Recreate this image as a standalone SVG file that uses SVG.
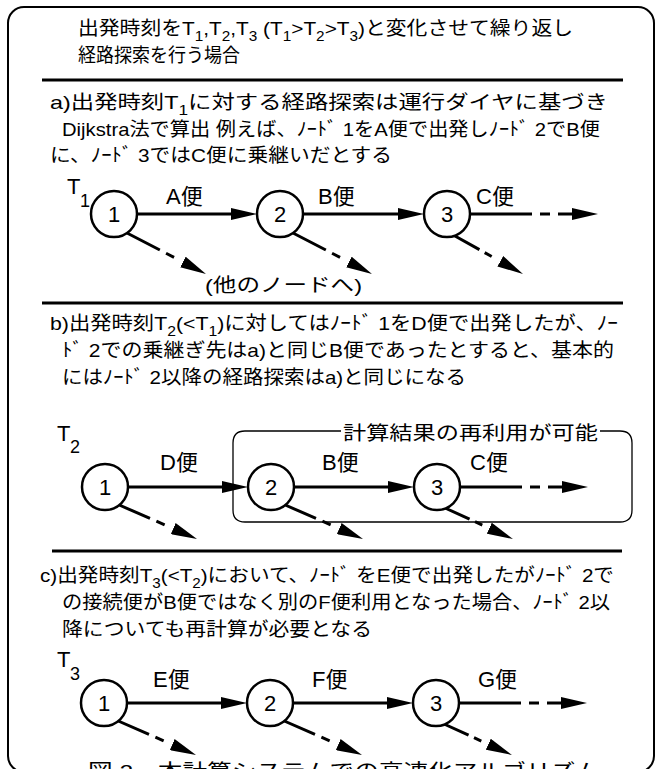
<svg xmlns="http://www.w3.org/2000/svg" width="656" height="769" viewBox="0 0 656 769">
<style>
.t{font-family:"Liberation Sans","Noto Sans CJK JP",sans-serif;font-size:19px;fill:#000}
.lbl{font-size:22px}
.num{font-size:22px;text-anchor:middle}
.sub{font-size:14px}
.tsub{font-size:18px}
.node circle{fill:#fff;stroke:#000;stroke-width:2.5}
.e{stroke:#000;stroke-width:3;fill:none}
.out{stroke-dasharray:62 8 10 8 14}
.dg{stroke-dasharray:37 7 9 10}
.dg3{stroke-dasharray:28 6 8 10}
.dgb{stroke-dasharray:36 7 9 10}
.dg3b{stroke-dasharray:27 6 8 8}
.rule{stroke:#000;stroke-width:3}
</style>
<defs>
<marker id="hd" markerUnits="userSpaceOnUse" viewBox="0 0 26 12" markerWidth="26" markerHeight="12" refX="0" refY="6" orient="auto"><path d="M0,0 L26,6 L0,12 z" fill="#000"/></marker>
</defs>
<rect x="8" y="7" width="646" height="765" rx="16" fill="#fff" stroke="#000" stroke-width="2"/>

<g id="texts">
<text class="t" x="78" y="35" textLength="495" lengthAdjust="spacingAndGlyphs">出発時刻をT<tspan class="sub" dy="6">1</tspan><tspan dy="-6">,T</tspan><tspan class="sub" dy="6">2</tspan><tspan dy="-6">,T</tspan><tspan class="sub" dy="6">3</tspan><tspan dy="-6"> (T</tspan><tspan class="sub" dy="6">1</tspan><tspan dy="-6">&gt;T</tspan><tspan class="sub" dy="6">2</tspan><tspan dy="-6">&gt;T</tspan><tspan class="sub" dy="6">3</tspan><tspan dy="-6">)と変化させて繰り返し</tspan></text>
<text class="t" x="78" y="62" textLength="162" lengthAdjust="spacingAndGlyphs">経路探索を行う場合</text>

<text class="t" x="50" y="109" textLength="558" lengthAdjust="spacingAndGlyphs">a)出発時刻T<tspan class="sub" dy="6">1</tspan><tspan dy="-6">に対する経路探索は運行ダイヤに基づき</tspan></text>
<text class="t" x="62" y="136" textLength="538" lengthAdjust="spacingAndGlyphs">Dijkstra法で算出  例えば、ﾉｰﾄﾞ 1をA便で出発しﾉｰﾄﾞ 2でB便</text>
<text class="t" x="50" y="162" textLength="342" lengthAdjust="spacingAndGlyphs">に、ﾉｰﾄﾞ 3ではC便に乗継いだとする</text>
<text class="t" x="205" y="292" textLength="157" lengthAdjust="spacingAndGlyphs">(他のノードへ)</text>

<text class="t" x="50" y="330" textLength="568" lengthAdjust="spacingAndGlyphs">b)出発時刻T<tspan class="sub" dy="6">2</tspan><tspan dy="-6">(&lt;T</tspan><tspan class="sub" dy="6">1</tspan><tspan dy="-6">)に対してはﾉｰﾄﾞ 1をD便で出発したが、ﾉｰ</tspan></text>
<text class="t" x="62" y="357" textLength="552" lengthAdjust="spacingAndGlyphs">ﾄﾞ 2での乗継ぎ先はa)と同じB便であったとすると、基本的</text>
<text class="t" x="62" y="384" textLength="404" lengthAdjust="spacingAndGlyphs">にはﾉｰﾄﾞ 2以降の経路探索はa)と同じになる</text>

<text class="t" x="40" y="582" textLength="574" lengthAdjust="spacingAndGlyphs">c)出発時刻T<tspan class="sub" dy="6">3</tspan><tspan dy="-6">(&lt;T</tspan><tspan class="sub" dy="6">2</tspan><tspan dy="-6">)において、ﾉｰﾄﾞ をE便で出発したがﾉｰﾄﾞ 2で</tspan></text>
<text class="t" x="62" y="609" textLength="548" lengthAdjust="spacingAndGlyphs">の接続便がB便ではなく別のF便利用となった場合、ﾉｰﾄﾞ 2以</text>
<text class="t" x="62" y="636" textLength="310" lengthAdjust="spacingAndGlyphs">降についても再計算が必要となる</text>

<text class="t" x="88" y="778" font-size="23" textLength="512" lengthAdjust="spacingAndGlyphs">図 2　本計算システムでの高速化アルゴリズム</text>
</g>

<g id="rules">
<line class="rule" x1="42" y1="80" x2="623" y2="80"/>
<line class="rule" x1="42" y1="303" x2="623" y2="303"/>
<line class="rule" x1="52" y1="551" x2="622" y2="551"/>
</g>

<g id="reuse">
<path d="M341,431 H245 Q233,431 233,443 V510 Q233,522 245,522 H620 Q632,522 632,510 V443 Q632,431 620,431 H600" fill="none" stroke="#000" stroke-width="1.3"/>
<text class="t" x="343" y="440" font-size="21" textLength="255" lengthAdjust="spacingAndGlyphs">計算結果の再利用が可能</text>
</g>

<g id="connectors">
<!-- section a -->
<path class="e" d="M137,214 H231" marker-end="url(#hd)"/>
<path class="e" d="M303,214 H398" marker-end="url(#hd)"/>
<path class="e out" d="M470,214 H572" marker-end="url(#hd)"/>
<path class="e dg" d="M127,233 L182.9,262" marker-end="url(#hd)"/>
<path class="e dg" d="M293,233 L348.9,262" marker-end="url(#hd)"/>
<path class="e dg3" d="M455,236 L500.3,261.3" marker-end="url(#hd)"/>
<text class="t lbl" x="166" y="204">A便</text>
<text class="t lbl" x="318" y="204">B便</text>
<text class="t lbl" x="476" y="204">C便</text>
<!-- section b -->
<path class="e" d="M128,487 H222" marker-end="url(#hd)"/>
<path class="e" d="M294,487 H388" marker-end="url(#hd)"/>
<path class="e out" d="M460,487 H562" marker-end="url(#hd)"/>
<path class="e dgb" d="M117,504 L173.2,528.6" marker-end="url(#hd)"/>
<path class="e dgb" d="M283,504 L339.2,528.6" marker-end="url(#hd)"/>
<path class="e dg3b" d="M445,508 L489.3,528.2" marker-end="url(#hd)"/>
<text class="t lbl" x="160" y="470">D便</text>
<text class="t lbl" x="322" y="470">B便</text>
<text class="t lbl" x="470" y="470">C便</text>
<!-- section c -->
<path class="e" d="M127,703 H221" marker-end="url(#hd)"/>
<path class="e" d="M293,703 H387" marker-end="url(#hd)"/>
<path class="e out" d="M459,703 H561" marker-end="url(#hd)"/>
<path class="e dgb" d="M116,720 L172.2,744.6" marker-end="url(#hd)"/>
<path class="e dgb" d="M282,720 L338.2,744.6" marker-end="url(#hd)"/>
<path class="e dg3b" d="M444,724 L488.3,744.2" marker-end="url(#hd)"/>
<text class="t lbl" x="153" y="687">E便</text>
<text class="t lbl" x="312" y="687">F便</text>
<text class="t lbl" x="478" y="687">G便</text>
</g>

<g id="a-n1" class="node"><circle cx="114" cy="214" r="23"/><text class="t num" x="114" y="222">1</text><text class="t lbl" x="67" y="194">T</text><text class="t tsub" x="80" y="207">1</text></g>
<g id="a-n2" class="node"><circle cx="280" cy="214" r="23"/><text class="t num" x="280" y="222">2</text></g>
<g id="a-n3" class="node"><circle cx="447" cy="214" r="23"/><text class="t num" x="447" y="222">3</text></g>

<g id="b-n1" class="node"><circle cx="105" cy="487" r="23"/><text class="t num" x="105" y="495">1</text><text class="t lbl" x="57" y="441">T</text><text class="t tsub" x="70" y="453">2</text></g>
<g id="b-n2" class="node"><circle cx="271" cy="487" r="23"/><text class="t num" x="271" y="495">2</text></g>
<g id="b-n3" class="node"><circle cx="437" cy="487" r="23"/><text class="t num" x="437" y="495">3</text></g>

<g id="c-n1" class="node"><circle cx="104" cy="703" r="23"/><text class="t num" x="104" y="711">1</text><text class="t lbl" x="57" y="667">T</text><text class="t tsub" x="70" y="680">3</text></g>
<g id="c-n2" class="node"><circle cx="270" cy="703" r="23"/><text class="t num" x="270" y="711">2</text></g>
<g id="c-n3" class="node"><circle cx="436" cy="703" r="23"/><text class="t num" x="436" y="711">3</text></g>
</svg>
